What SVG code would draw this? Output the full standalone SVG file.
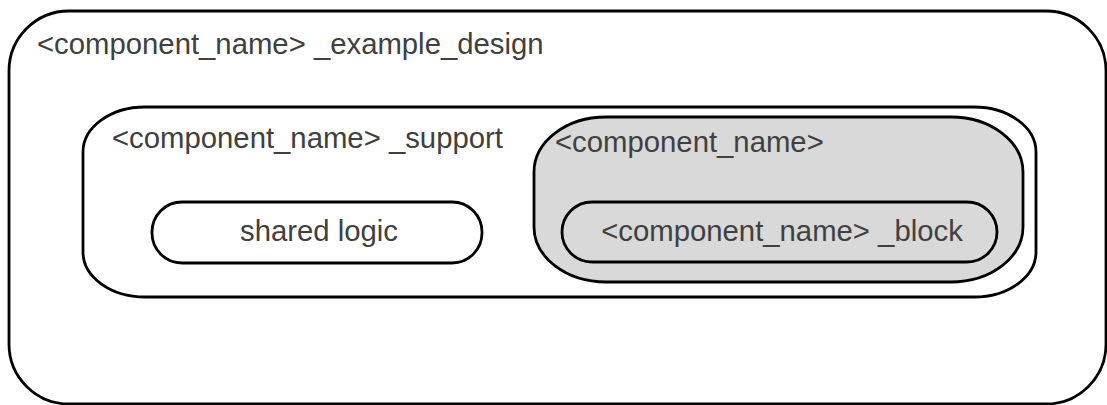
<svg xmlns="http://www.w3.org/2000/svg" width="1107" height="405" viewBox="0 0 1107 405">
<style>
.box{fill:#ffffff;stroke:#000000;stroke-width:2.8}
.gray{fill:#d9d9d9;stroke:#000000;stroke-width:2.8}
.lbl{font-family:"Liberation Sans",Arial,sans-serif;font-size:29.3px;fill:#404040}
</style>
<rect width="1107" height="405" fill="#ffffff"/>
<g id="example_design">
<rect class="box" x="9" y="11" width="1097" height="393" rx="60" ry="60"/>
<text class="lbl" x="37" y="54">&lt;component_name&gt; _example_design</text>
</g>
<g id="support">
<rect class="box" x="83" y="107" width="953" height="190" rx="62" ry="45"/>
<text class="lbl" x="112" y="148">&lt;component_name&gt; _support</text>
</g>
<g id="shared_logic">
<rect class="box" x="152" y="202" width="330" height="61" rx="30" ry="30"/>
<text class="lbl" x="319" y="241" text-anchor="middle">shared logic</text>
</g>
<g id="component">
<rect class="gray" x="534" y="117" width="489" height="165" rx="72" ry="55"/>
<text class="lbl" x="555" y="152">&lt;component_name&gt;</text>
</g>
<g id="block">
<rect class="gray" x="562" y="202" width="435" height="60" rx="30" ry="30"/>
<text class="lbl" x="782" y="241" text-anchor="middle">&lt;component_name&gt; _block</text>
</g>
<g id="connectors"/>
</svg>
